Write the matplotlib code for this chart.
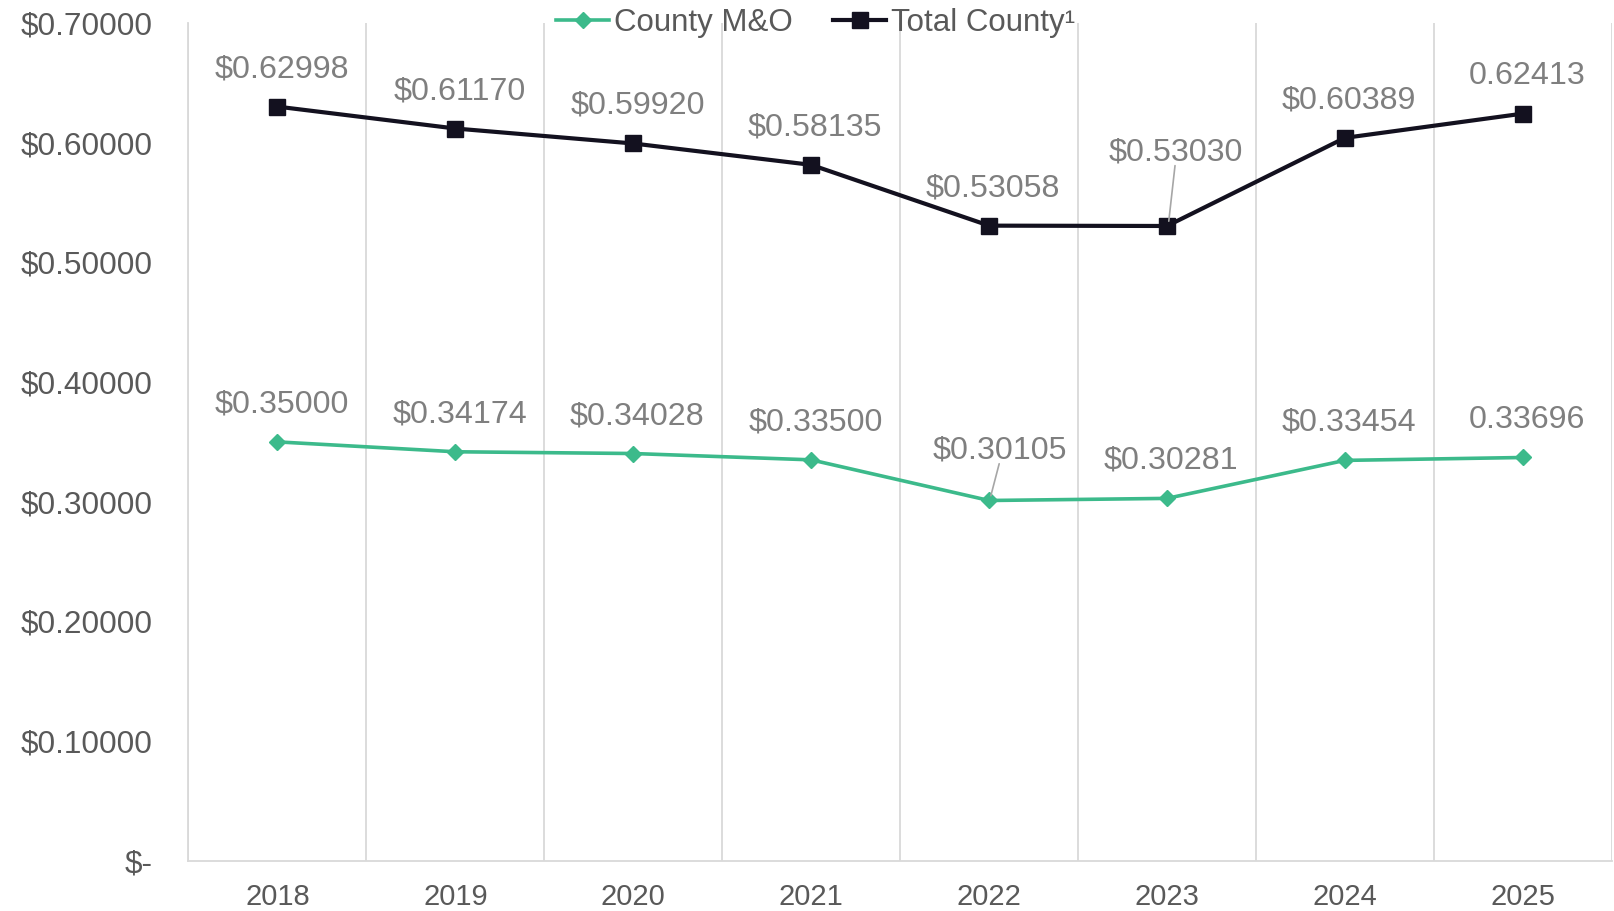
import matplotlib.pyplot as plt
import numpy as np

plt.rcParams['font.family'] = ['Liberation Sans', 'DejaVu Sans']

years = ['2018', '2019', '2020', '2021', '2022', '2023', '2024', '2025']
county_mo = [0.35000, 0.34174, 0.34028, 0.33500, 0.30105, 0.30281, 0.33454, 0.33696]
total_county = [0.62998, 0.61170, 0.59920, 0.58135, 0.53058, 0.53030, 0.60389, 0.62413]
mo_labels = ['$0.35000', '$0.34174', '$0.34028', '$0.33500', '$0.30105', '$0.30281', '$0.33454', '0.33696']
total_labels = ['$0.62998', '$0.61170', '$0.59920', '$0.58135', '$0.53058', '$0.53030', '$0.60389', '0.62413']
y_ticks = [0.0, 0.1, 0.2, 0.3, 0.4, 0.5, 0.6, 0.7]
y_tick_labels = ['$-', '$0.10000', '$0.20000', '$0.30000', '$0.40000', '$0.50000', '$0.60000', '$0.70000']

green = '#3cba8b'
dark = '#13111f'
label_grey = '#7f7f7f'
axis_grey = '#595959'
grid_grey = '#d9d9d9'

fig = plt.figure(figsize=(16.15, 9.11), dpi=100)
ax = fig.add_axes([0.1167, 0.0549, 0.998 - 0.1167, 0.975 - 0.0549])

x = np.arange(len(years))
ax.plot(x, county_mo, color=green, linewidth=2.6, marker='D', markersize=8,
        label='County M&O', zorder=3)
ax.plot(x, total_county, color=dark, linewidth=3, marker='s', markersize=11.5,
        label='Total County¹', zorder=3)

# label offsets in points (most sit just above the marker)
default_off = (3, 27)
mo_off = {4: (8, 36)}
total_off = {5: (6, 53)}

def add_labels(vals, texts, offs):
    for i, (v, t) in enumerate(zip(vals, texts)):
        dx, dy = offs.get(i, default_off)
        ax.annotate(t, (i, v), xytext=(dx, dy), textcoords='offset points',
                    ha='center', va='center', fontsize=23.2, color=label_grey, zorder=4)
        if i in offs:
            ax.annotate('', (i + 0.01, v + 0.004), xytext=(dx * 0.75, dy - 13),
                        textcoords='offset points',
                        arrowprops=dict(arrowstyle='-', color='#a6a6a6', lw=1.2,
                                        shrinkA=0, shrinkB=0))

add_labels(county_mo, mo_labels, mo_off)
add_labels(total_county, total_labels, total_off)

ax.set_xlim(-0.5, len(years) - 0.5)
ax.set_ylim(0, 0.7)
ax.set_xticks(x)
ax.set_xticklabels(years, fontsize=21, color=axis_grey)
ax.set_yticks(y_ticks)
ax.set_yticklabels(y_tick_labels, fontsize=22.7, color=axis_grey)
ax.set_xticks(np.arange(-0.5, len(years)), minor=True)
ax.grid(True, which='minor', axis='x', color=grid_grey, linewidth=1.3)
ax.tick_params(axis='both', which='both', length=0)
ax.tick_params(axis='y', pad=26)
ax.tick_params(axis='x', pad=16)

for s in ['top', 'right']:
    ax.spines[s].set_visible(False)
for s in ['left', 'bottom']:
    ax.spines[s].set_color(grid_grey)
    ax.spines[s].set_linewidth(1.3)

leg = fig.legend(loc='center', bbox_to_anchor=(0.505, 0.975), ncol=2, frameon=False,
                 fontsize=22.5, handlelength=1.7, handletextpad=0.15, columnspacing=1.3)
for t in leg.get_texts():
    t.set_color(axis_grey)

fig.savefig('out.png', dpi=100)
